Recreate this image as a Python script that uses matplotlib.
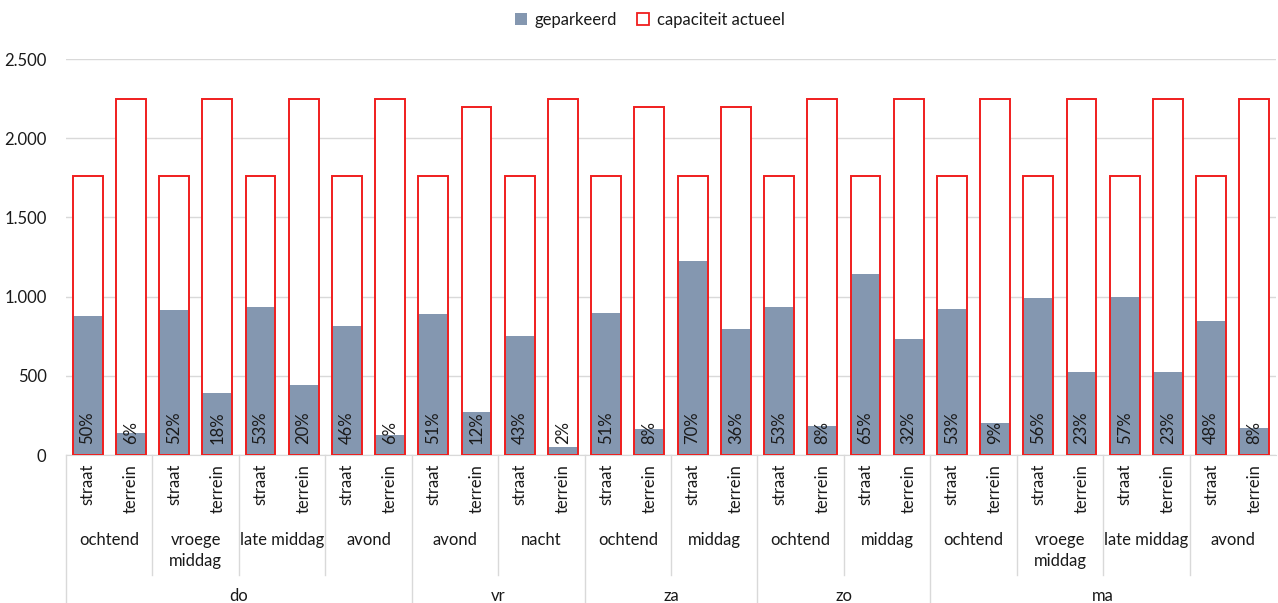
import matplotlib.pyplot as plt
from matplotlib.patches import Patch

plt.rcParams['font.family'] = ['Lato', 'DejaVu Sans']

# data
days = ['do', 'vr', 'za', 'zo', 'ma']
day_periods = [
    ['ochtend', 'vroege\nmiddag', 'late middag', 'avond'],
    ['avond', 'nacht'],
    ['ochtend', 'middag'],
    ['ochtend', 'middag'],
    ['ochtend', 'vroege\nmiddag', 'late middag', 'avond'],
]
locations = ['straat', 'terrein']

geparkeerd = [877, 137, 915, 394, 934, 442, 814, 126,
              890, 269, 749, 48,
              894, 164, 1225, 793,
              932, 181, 1141, 730,
              924, 202, 993, 524, 995, 524, 846, 173]
capaciteit = [1760, 2250, 1760, 2250, 1760, 2250, 1760, 2250,
              1760, 2200, 1760, 2250,
              1760, 2200, 1760, 2200,
              1760, 2250, 1760, 2250,
              1760, 2250, 1760, 2250, 1760, 2250, 1760, 2250]
pct_labels = ['50%', '6%', '52%', '18%', '53%', '20%', '46%', '6%',
              '51%', '12%', '43%', '2%',
              '51%', '8%', '70%', '36%',
              '53%', '8%', '65%', '32%',
              '53%', '9%', '56%', '23%', '57%', '23%', '48%', '8%']

blue = '#8497B0'
red = '#F01E1E'
txt = '#1a1a1a'
grid = '#D9D9D9'
fs = 12

fig = plt.figure(figsize=(12.78, 6.03), dpi=100)
ax = fig.add_axes([66 / 1278, 148 / 603, 1210 / 1278, 396 / 603])

x = list(range(len(geparkeerd)))
w = 0.69
ax.bar(x, capaciteit, width=w, color='white', edgecolor='none', zorder=2)
ax.bar(x, geparkeerd, width=w, color=blue, edgecolor='none', zorder=3)
ax.bar(x, capaciteit, width=w, color='none', edgecolor=red, linewidth=1.4, zorder=4)

for xi, lab in zip(x, pct_labels):
    ax.text(xi, 72, lab, rotation=90, ha='center', va='bottom', fontsize=fs, color=txt, zorder=5)

ax.set_xlim(-0.5, len(x) - 0.5)
ax.set_ylim(0, 2500)
ax.set_yticks([0, 500, 1000, 1500, 2000, 2500])
ax.set_yticklabels(['0', '500', '1.000', '1.500', '2.000', '2.500'], fontsize=fs, color=txt)
ax.yaxis.grid(True, color=grid, linewidth=1)
ax.set_axisbelow(True)
ax.tick_params(axis='y', length=0, pad=14)
ax.tick_params(axis='x', length=0)
ax.set_xticks([])
for s in ['top', 'right', 'left']:
    ax.spines[s].set_visible(False)
ax.spines['bottom'].set_color(grid)

# multi-level category axis
tr = ax.get_xaxis_transform()
px = 1 / 396
for xi in x:
    ax.text(xi, -9 * px, locations[xi % 2], rotation=90, ha='center', va='top',
            fontsize=fs, color=txt, transform=tr)

pos = 0
ax.plot([-0.5, -0.5], [0, -148 * px], color=grid, lw=1, transform=tr, clip_on=False)
for d, periods in zip(days, day_periods):
    start = pos
    for j, p in enumerate(periods):
        c = pos + 0.5
        ax.text(c, -77 * px, p, ha='center', va='top', fontsize=fs, color=txt,
                transform=tr, linespacing=1.4)
        pos += 2
        if j < len(periods) - 1:
            ax.plot([pos - 0.5, pos - 0.5], [0, -120 * px], color=grid, lw=1,
                    transform=tr, clip_on=False)
    ax.text((start + pos - 1) / 2, -141 * px, d, ha='center', va='center', fontsize=fs,
            color=txt, transform=tr)
    if pos < len(x):
        ax.plot([pos - 0.5, pos - 0.5], [0, -148 * px], color=grid, lw=1,
                transform=tr, clip_on=False)

handles = [Patch(facecolor=blue, edgecolor='none', label='geparkeerd'),
           Patch(facecolor='white', edgecolor=red, linewidth=1.3, label='capaciteit actueel')]
fig.legend(handles=handles, loc='center', bbox_to_anchor=(650 / 1278, 1 - 20 / 603), ncol=2,
           frameon=False, fontsize=fs, handlelength=0.7, handleheight=0.7,
           handletextpad=0.5, columnspacing=1.2, labelcolor=txt)

fig.savefig('out.png', dpi=100)
